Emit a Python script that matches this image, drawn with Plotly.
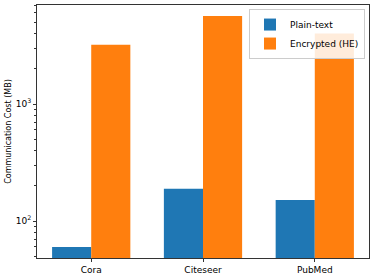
import plotly.graph_objects as go

categories = ["Cora", "Citeseer", "PubMed"]
plain_text = [60, 189, 151]
encrypted = [3210, 5650, 4000]

fig = go.Figure()
fig.add_trace(go.Bar(x=categories, y=plain_text, name="Plain-text",
                     marker=dict(color="#1f77b4", line=dict(width=0))))
fig.add_trace(go.Bar(x=categories, y=encrypted, name="Encrypted (HE)",
                     marker=dict(color="#ff7f0e", line=dict(width=0))))

font = dict(family="DejaVu Sans", size=9, color="#000")
fig.update_layout(
    width=374, height=277,
    margin=dict(l=37, r=5, t=5, b=19, autoexpand=False),
    barmode="group", bargap=0.3, bargroupgap=0,
    plot_bgcolor="white", paper_bgcolor="white",
    font=font,
    legend=dict(x=0.988, y=0.984, xanchor="right", yanchor="top",
                bgcolor="rgba(255,255,255,0.85)", bordercolor="#cccccc",
                borderwidth=1, font=dict(family="DejaVu Sans", size=9),
                tracegroupgap=0, itemwidth=30),
    showlegend=True,
)
fig.update_xaxes(range=[-0.485, 2.485], showline=True, linecolor="#333",
                 linewidth=1, mirror=True, ticks="outside", ticklen=3,
                 tickcolor="#333", showgrid=False, automargin=False,
                 tickfont=dict(family="DejaVu Sans", size=9))
fig.update_yaxes(type="log", range=[1.684, 3.846], showline=True,
                 linecolor="#333", linewidth=1, mirror=True, ticks="outside",
                 ticklen=3, tickcolor="#333", showgrid=False, automargin=False,
                 tickfont=dict(family="DejaVu Sans", size=9),
                 tickvals=[100, 1000], ticktext=["10<sup>2</sup>", "10<sup>3</sup>"],
                 minor=dict(ticks="outside", ticklen=2, tickcolor="#333",
                            tickvals=[50, 60, 70, 80, 90, 200, 300, 400, 500, 600, 700, 800, 900,
                                      2000, 3000, 4000, 5000, 6000, 7000], showgrid=False),
                 title=dict(text="Communication Cost (MB)", standoff=2,
                            font=dict(family="DejaVu Sans", size=8)))

fig.write_html("out.html", config={"displayModeBar": False},
               post_script="document.body.style.margin='0';document.body.style.overflow='hidden';")
